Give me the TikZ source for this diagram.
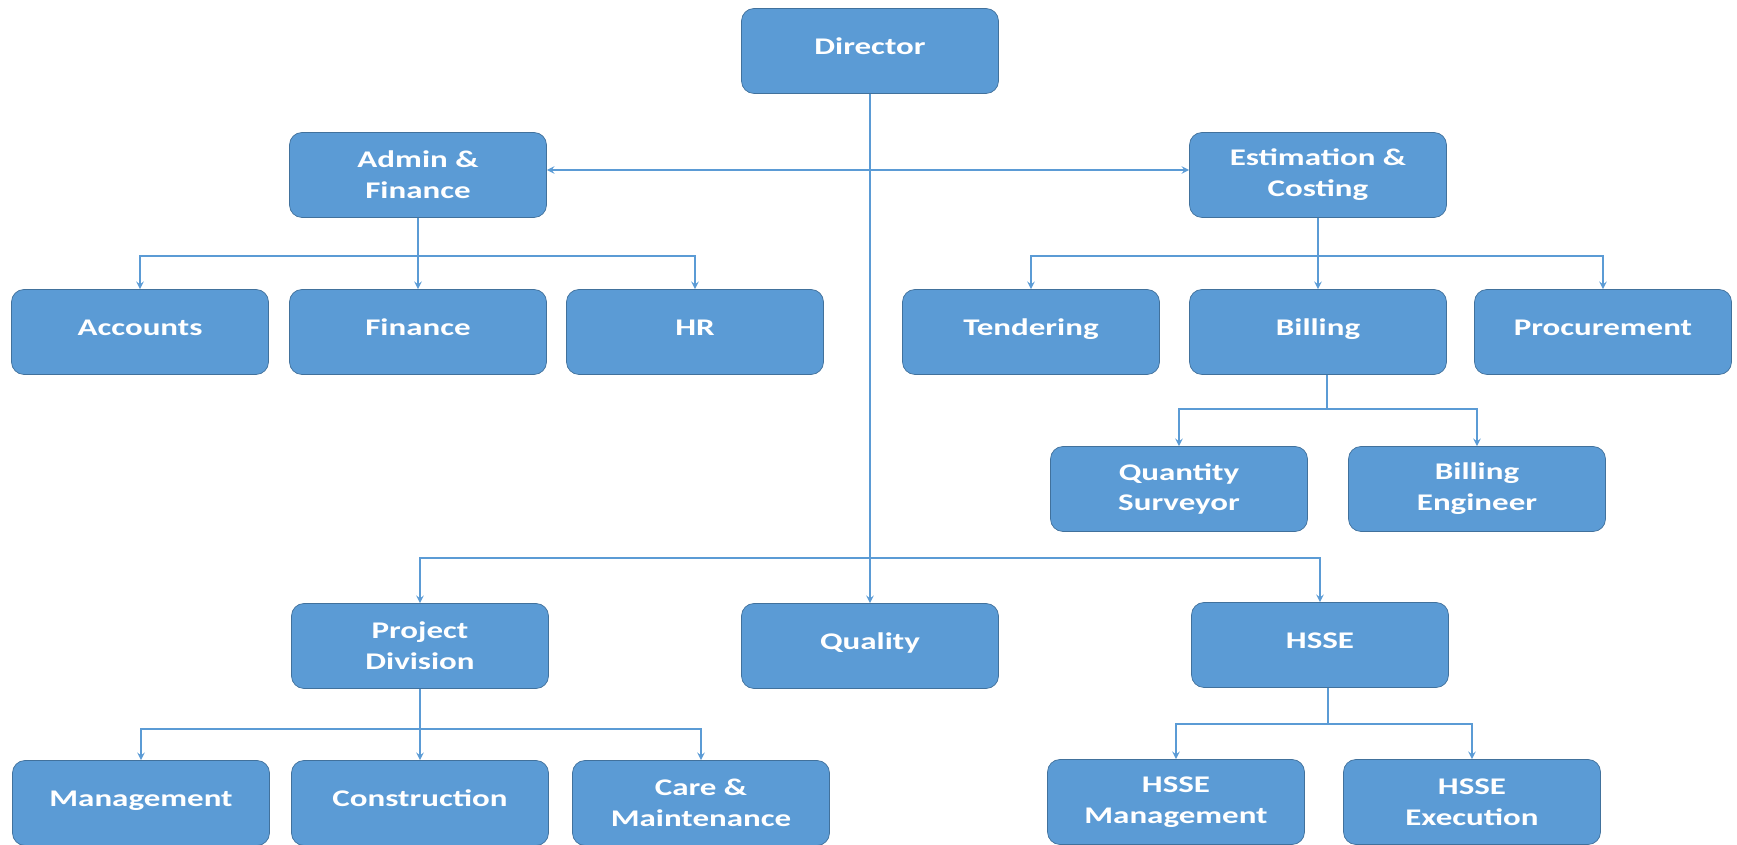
\documentclass[tikz,border=0pt]{standalone}
\usepackage{fontspec}
\setmainfont{Carlito}[FakeStretch=1.38]
\usepackage{tikz}
\usetikzlibrary{shapes.geometric, arrows, positioning}
\definecolor{boxblue}{RGB}{91,155,213}
\definecolor{boxedge}{RGB}{65,113,156}
\tikzstyle{unit} = [rectangle, rounded corners=0.25cm, minimum width=5.14cm, minimum height=1.7cm, text centered, align=center, draw=boxedge, fill=boxblue, text=white, font=\fontsize{13.6}{17.6}\selectfont\bfseries]
\tikzstyle{oneline} = [unit, text height=0.35cm, text depth=0.22cm]
\tikzstyle{arrow} = [line width=0.9pt, draw=boxblue, ->, >=stealth]
\tikzstyle{link} = [line width=0.9pt, draw=boxblue]

\begin{document}
\begin{tikzpicture}[node distance=3.14cm]

        \useasboundingbox (0,0) rectangle (34.74,-16.9);

        \node (director) [oneline] at (17.4,-1.02) {Director};
        \node (admin) [unit, below of=director, xshift=-9.04cm, yshift=0.66cm] {Admin \&\\Finance};
        \node (estimation) [unit, below of=director, xshift=8.96cm, yshift=0.66cm] {Estimation \&\\Costing};
        \node (finance) [oneline, below of=admin] {Finance};
        \node (accounts) [oneline, below of=admin, xshift=-5.56cm] {Accounts};
        \node (hr) [oneline, below of=admin, xshift=5.54cm] {HR};
        \node (billing) [oneline, below of=estimation] {Billing};
        \node (tendering) [oneline, below of=estimation, xshift=-5.74cm] {Tendering};
        \node (procurement) [oneline, below of=estimation, xshift=5.7cm] {Procurement};
        \node (surveyor) [unit, below of=billing, xshift=-2.78cm] {Quantity\\Surveyor};
        \node (engineer) [unit, below of=billing, xshift=3.18cm] {Billing\\Engineer};
        \node (quality) [oneline, node distance=11.9cm, below of=director] {Quality};
        \node (project) [unit, node distance=9cm, left of=quality] {Project\\Division};
        \node (hsse) [oneline, node distance=9cm, right of=quality, yshift=0.02cm] {HSSE};
        \node (construction) [oneline, below of=project] {Construction};
        \node (management) [oneline, below of=project, xshift=-5.58cm] {Management};
        \node (care) [unit, below of=project, xshift=5.62cm] {Care \&\\Maintenance};
        \node (hssemgmt) [unit, below of=hsse, xshift=-2.88cm] {HSSE\\Management};
        \node (hsseexec) [unit, below of=hsse, xshift=3.04cm] {HSSE\\Execution};

        \coordinate [node distance=1.62cm, below of=admin] (adminbus);
        \coordinate [node distance=1.62cm, below of=estimation] (estbus);
        \coordinate [node distance=1.54cm, below of=billing, xshift=0.18cm] (billbus);
        \coordinate [node distance=10.14cm, below of=director] (projbus);
        \coordinate [node distance=1.66cm, below of=project] (projectbus);
        \coordinate [node distance=1.58cm, below of=hsse, xshift=0.16cm] (hssebus);

        \draw [arrow] (director) -- (quality);
        \draw [arrow] (director) |- ([yshift=0.1cm]admin.east);
        \draw [arrow] (director) |- ([yshift=0.1cm]estimation.west);

        \draw [arrow] (admin) -- (finance);
        \draw [arrow] (adminbus) -| (accounts);
        \draw [arrow] (adminbus) -| (hr);

        \draw [arrow] (estimation) -- (billing);
        \draw [arrow] (estbus) -| (tendering);
        \draw [arrow] (estbus) -| (procurement);

        \draw [link] (billing.south -| billbus) -- (billbus);
        \draw [arrow] (billbus) -| (surveyor);
        \draw [arrow] (billbus) -| (engineer);

        \draw [arrow] (projbus) -| (project);
        \draw [arrow] (projbus) -| (hsse);

        \draw [arrow] (project) -- (construction);
        \draw [arrow] (projectbus) -| (management);
        \draw [arrow] (projectbus) -| (care);

        \draw [link] (hsse.south -| hssebus) -- (hssebus);
        \draw [arrow] (hssebus) -| (hssemgmt);
        \draw [arrow] (hssebus) -| (hsseexec);

    \end{tikzpicture}
\end{document}
